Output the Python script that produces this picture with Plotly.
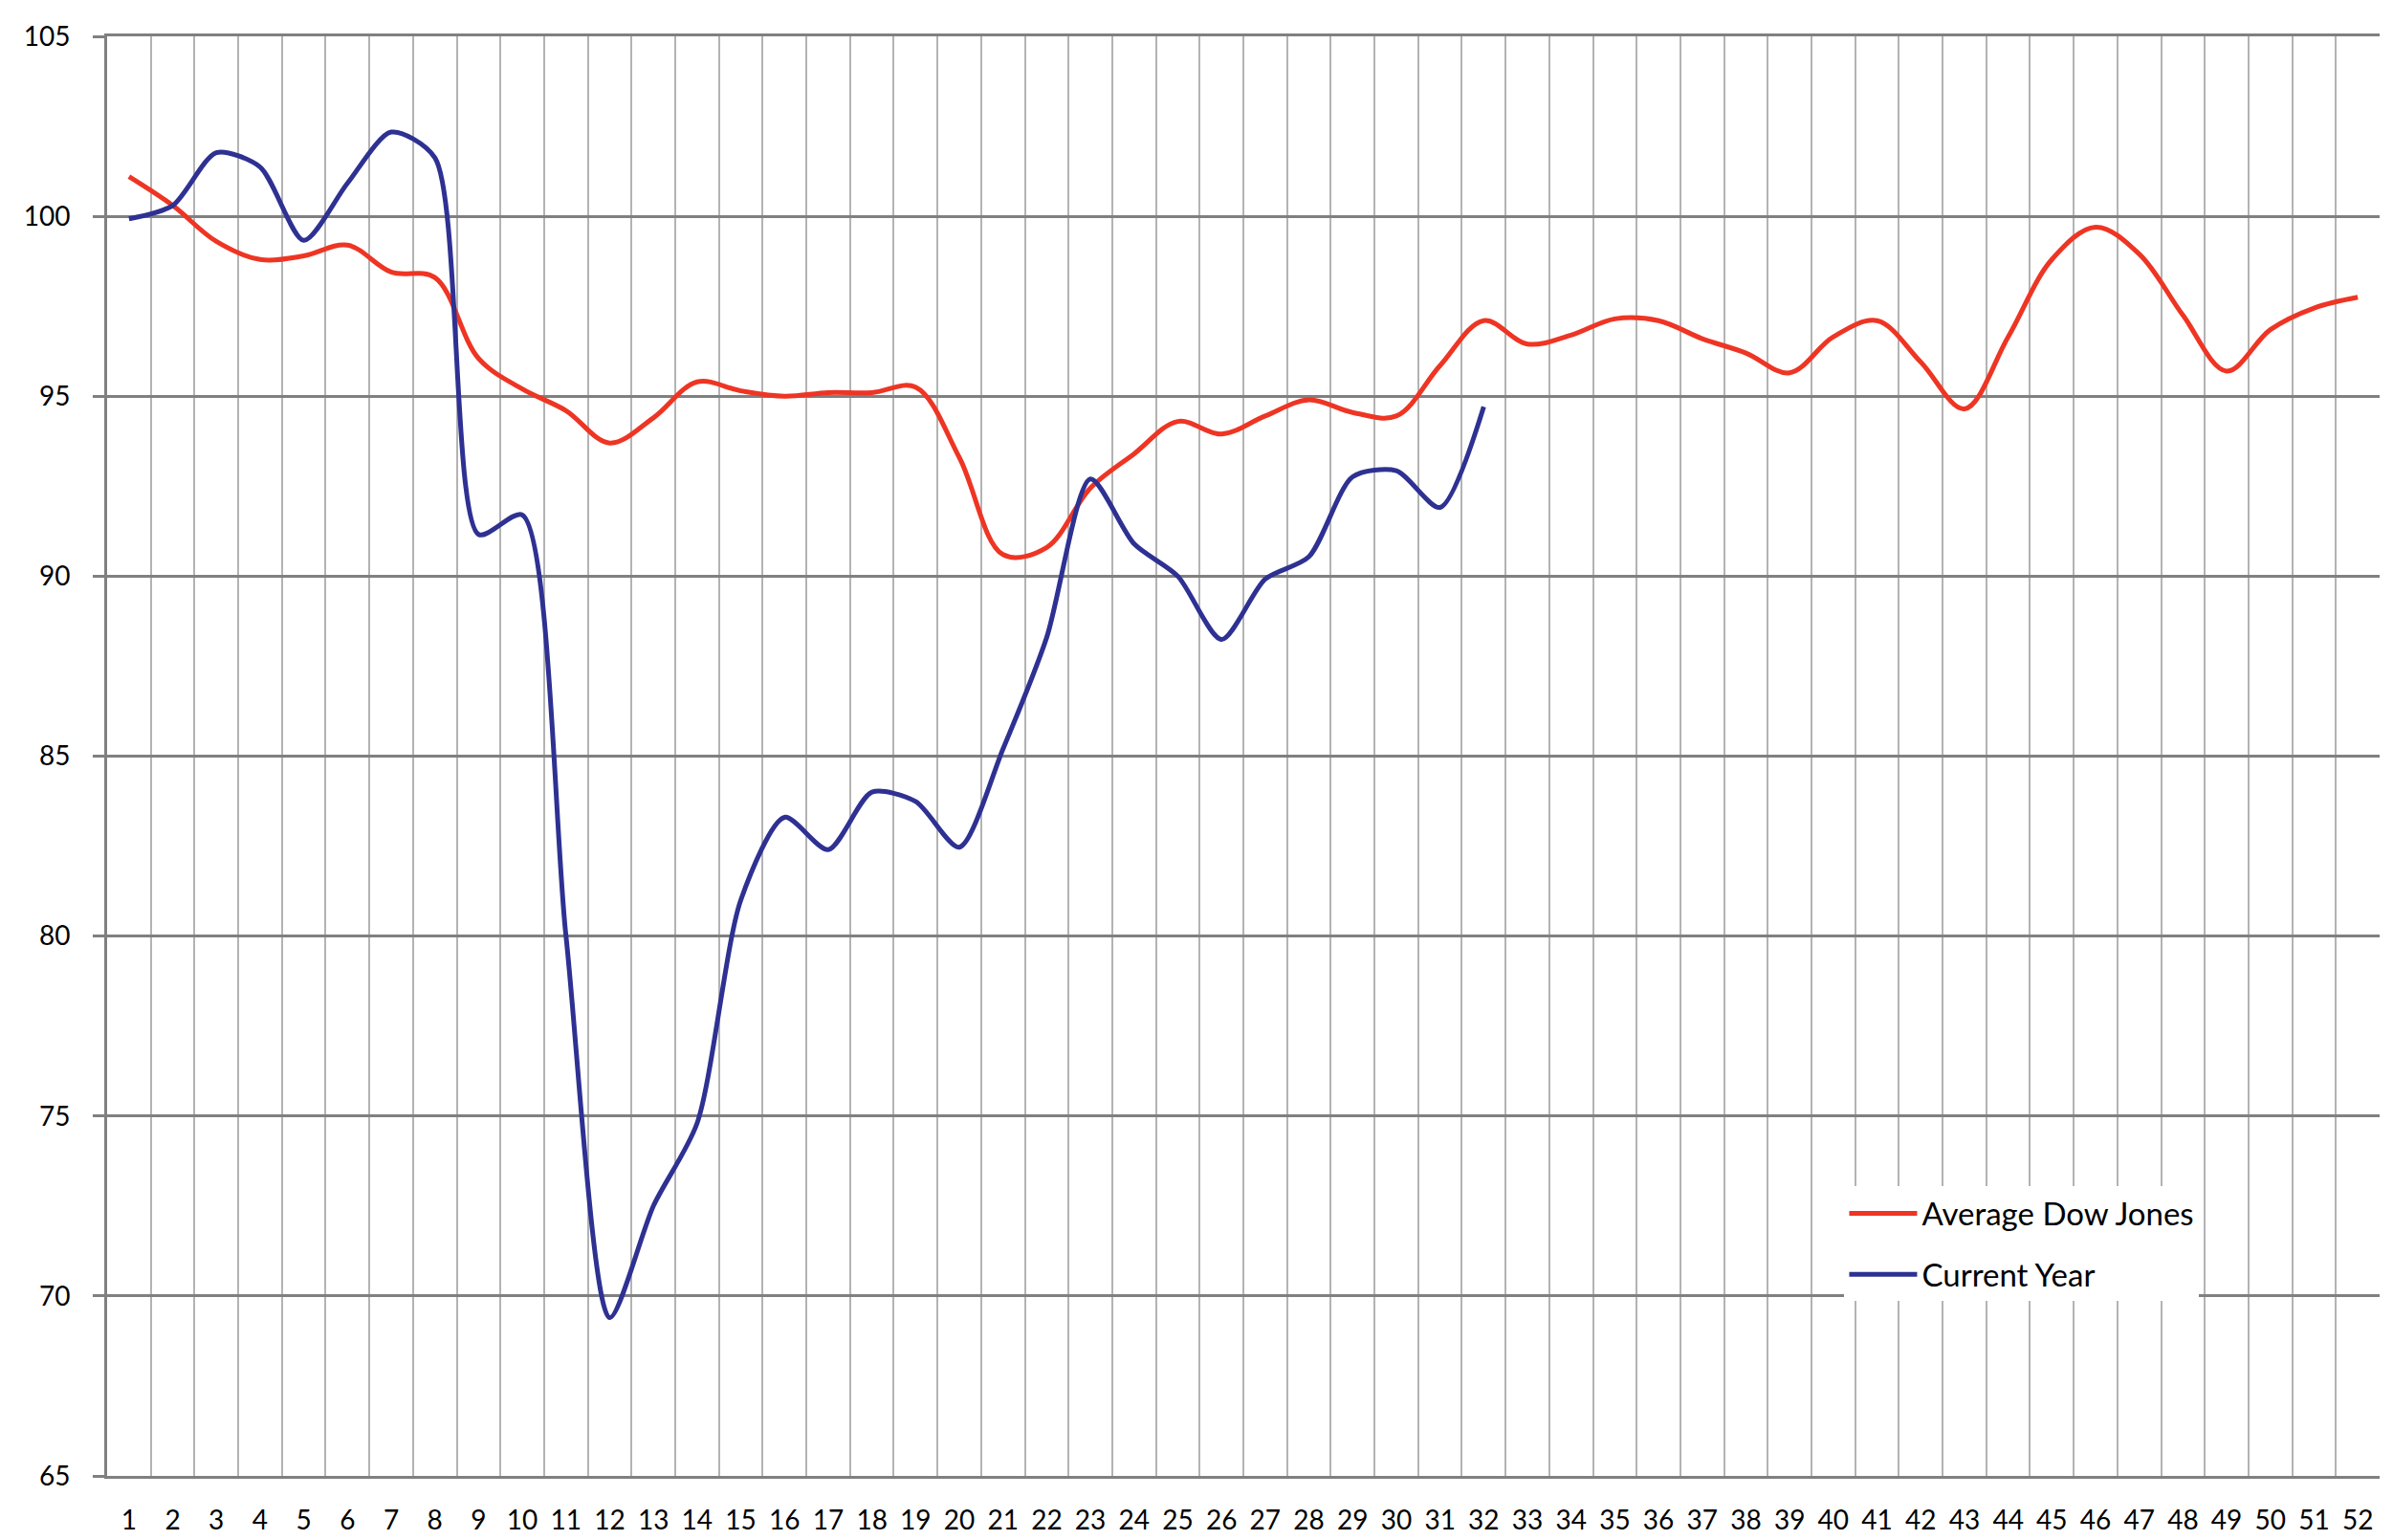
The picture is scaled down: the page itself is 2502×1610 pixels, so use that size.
import plotly.graph_objects as go

weeks = list(range(1, 53))
week_labels = [str(w) for w in weeks]

average_dow_jones = [101.1, 100.3, 99.3, 98.8, 98.9, 99.2, 98.45, 98.3, 96.05, 95.2,
                     94.6, 93.7, 94.4, 95.4, 95.15, 95.0, 95.1, 95.1, 95.25, 93.3,
                     90.6, 90.8, 92.45, 93.4, 94.3, 93.95, 94.45, 94.9, 94.55, 94.45,
                     95.85, 97.1, 96.45, 96.7, 97.15, 97.1, 96.6, 96.2, 95.65, 96.65,
                     97.1, 95.95, 94.65, 96.65, 98.8, 99.7, 98.95, 97.25, 95.7, 96.85,
                     97.45, 97.75]

current_year = [99.93, 100.3, 101.77, 101.37, 99.33, 100.92, 102.34, 101.63, 91.16, 91.7,
                80.0, 69.4, 72.5, 74.8, 81.0, 83.3, 82.4, 84.0, 83.74, 82.47,
                85.2, 88.3, 92.7, 90.9, 90.0, 88.24, 89.92, 90.54, 92.76, 92.93,
                91.91, 94.71]

y_ticks = [65, 70, 75, 80, 85, 90, 95, 100, 105]

RED = "#EE3524"
BLUE = "#2E3192"
DARK_GRID = "#808080"
LIGHT_GRID = "#B3B3B3"
FONT = "Lato"

boundaries = [w - 0.5 for w in weeks] + [weeks[-1] + 0.5]
tick_marks = boundaries[::2]

fig = go.Figure()
fig.add_trace(go.Scatter(
    x=weeks, y=average_dow_jones, name="Average Dow Jones", mode="lines",
    line=dict(color=RED, width=5, shape="spline", smoothing=1.0),
    legendgroup="a"))
fig.add_trace(go.Scatter(
    x=weeks[:len(current_year)], y=current_year, name="Current Year", mode="lines",
    line=dict(color=BLUE, width=5, shape="spline", smoothing=0.75),
    legendgroup="b"))

fig.update_layout(
    width=2502, height=1610,
    margin=dict(l=112, r=14, t=38, b=67, autoexpand=False),
    paper_bgcolor="white", plot_bgcolor="white",
    font=dict(family=FONT, color="black", size=28),
    showlegend=True,
    legend=dict(
        x=0.7645, y=0.201, xanchor="left", yanchor="top",
        bgcolor="white", borderwidth=0,
        font=dict(family=FONT, size=33, color="black"),
        traceorder="grouped", tracegroupgap=18,
        itemwidth=71,
    ),
    xaxis=dict(
        range=[0.5, 52.5], tickmode="array", tickvals=weeks, ticktext=week_labels,
        ticks="", showgrid=False, zeroline=False, automargin=False,
        showline=True, linecolor=DARK_GRID, linewidth=3, mirror=True,
        tickfont=dict(family=FONT, size=28, color="black"),
        ticklabelstandoff=19,
        minor=dict(tickmode="array", tickvals=boundaries, showgrid=True,
                   gridcolor=LIGHT_GRID, gridwidth=2, ticks=""),
    ),
    xaxis2=dict(
        overlaying="x", anchor="y", side="bottom", range=[0.5, 52.5],
        tickmode="array", tickvals=tick_marks, ticks="outside", ticklen=10,
        tickwidth=3, tickcolor=DARK_GRID, showticklabels=False, automargin=False,
        showgrid=False, zeroline=False, showline=False,
    ),
    yaxis=dict(
        range=[65, 105], tickmode="array", tickvals=y_ticks, automargin=False,
        ticks="outside", ticklen=12, tickwidth=3, tickcolor=DARK_GRID,
        showgrid=True, gridcolor=DARK_GRID, gridwidth=3, zeroline=False,
        showline=True, linecolor=DARK_GRID, linewidth=3,
        tickfont=dict(family=FONT, size=28, color="black"),
        ticklabelstandoff=18,
    ),
)

fig.write_html("out.html")
